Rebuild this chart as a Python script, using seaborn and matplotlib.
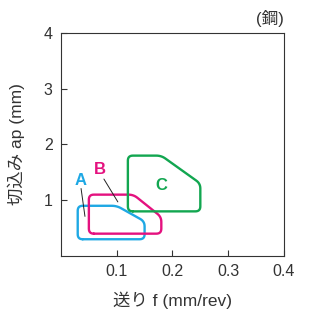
import numpy as np
import pandas as pd
import seaborn as sns
import matplotlib.pyplot as plt

# Regions (feed f in mm/rev, depth ap in mm), polygon vertices
feed_a = [0.03, 0.03, 0.10, 0.15, 0.15]
depth_a = [0.30, 0.90, 0.90, 0.62, 0.30]
feed_b = [0.05, 0.05, 0.13, 0.18, 0.18]
depth_b = [0.40, 1.10, 1.10, 0.70, 0.40]
feed_c = [0.12, 0.12, 0.18, 0.25, 0.25]
depth_c = [0.80, 1.80, 1.80, 1.30, 0.80]

regions = ['A', 'B', 'C']
region_colors = {'A': '#1ea8e4', 'B': '#e4117f', 'C': '#12a650'}

# label positions and leader lines
label_x = [0.035, 0.069, 0.18]
label_y = [1.36, 1.56, 1.27]
leader_a = ([0.036, 0.043], [1.21, 0.71])
leader_b = ([0.077, 0.102], [1.38, 0.97])

x_ticks = [0.1, 0.2, 0.3, 0.4]
y_ticks = [1, 2, 3, 4]

sns.set_style('ticks')
plt.rcParams['font.family'] = ['Liberation Sans', 'Noto Sans CJK JP']

fig = plt.figure(figsize=(3.12, 3.16), dpi=100)
ax = fig.add_axes([0.1955, 0.19, 0.7145, 0.7056])
ax.set_xlim(0, 0.4)
ax.set_ylim(0, 4)


def rounded(xs, ys, r=5, n=8):
    """Round the polygon corners (r in pixels), return closed outline in data coords"""
    pts = ax.transData.transform(np.column_stack([xs, ys]))
    out = []
    m = len(pts)
    for i in range(m):
        p0, p1, p2 = pts[i - 1], pts[i], pts[(i + 1) % m]
        d1 = (p0 - p1) / np.linalg.norm(p0 - p1)
        d2 = (p2 - p1) / np.linalg.norm(p2 - p1)
        a = p1 + d1 * r
        b = p1 + d2 * r
        for t in np.linspace(0, 1, n):
            out.append((1 - t) ** 2 * a + 2 * (1 - t) * t * p1 + t ** 2 * b)
    out.append(out[0])
    return ax.transData.inverted().transform(np.array(out))


frames = []
for name, xs, ys in zip(regions, [feed_a, feed_b, feed_c], [depth_a, depth_b, depth_c]):
    outline = rounded(xs, ys)
    frames.append(pd.DataFrame({'feed': outline[:, 0], 'depth': outline[:, 1],
                                'region': name, 'order': range(len(outline))}))
df = pd.concat(frames, ignore_index=True)

sns.lineplot(data=df, x='feed', y='depth', hue='region', palette=region_colors,
             sort=False, estimator=None, legend=False, linewidth=1.7, ax=ax)

for name, lx, ly in zip(regions, label_x, label_y):
    ax.text(lx, ly, name, color=region_colors[name], fontsize=12, fontweight='bold',
            ha='center', va='center')

for lx, ly in [leader_a, leader_b]:
    ax.plot(lx, ly, color='#222222', lw=0.7)

ax.set_xticks(x_ticks)
ax.set_xticklabels([f'{t:.1f}' for t in x_ticks])
ax.set_yticks(y_ticks)
ax.tick_params(direction='in', length=4, width=0.8, labelsize=11.5,
               colors='#333333', pad=6)
for s in ax.spines.values():
    s.set_visible(True)
    s.set_linewidth(0.8)
    s.set_color('#333333')

ax.set_xlabel('送り f (mm/rev)', fontsize=12.5, color='#333333')
ax.set_ylabel('切込み ap (mm)', fontsize=12.5, color='#333333')
ax.xaxis.set_label_coords(0.5, -0.16)
ax.yaxis.set_label_coords(-0.16, 0.5)

fig.text(0.91, 0.943, '(鋼)', ha='right', va='center', fontsize=12, color='#333333')

fig.savefig('out.png', dpi=100)
